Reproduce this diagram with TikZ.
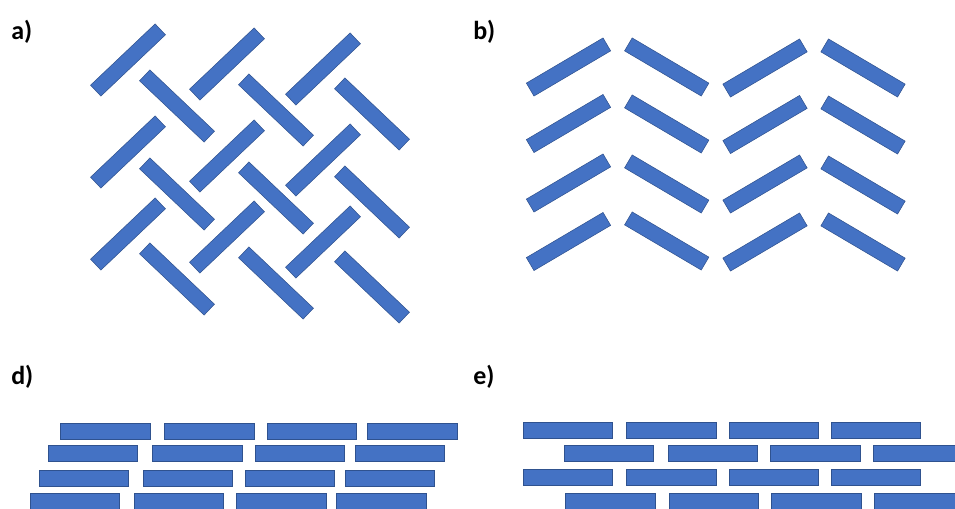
\documentclass[tikz,border=0pt]{standalone}
\usepackage{fontspec}
\setmainfont{Carlito}
\definecolor{brickfill}{HTML}{4472C4}
\definecolor{brickline}{HTML}{2F528F}
\begin{document}
\begin{tikzpicture}[x=0.75pt,y=-0.75pt,
  brick/.style={rectangle,fill=brickfill,draw=brickline,line width=0.4pt,inner sep=0pt,outer sep=0pt},
  stick/.style={brick,minimum width=66.75pt,minimum height=11.25pt},
  flat/.style={brick,minimum width=67.1pt,minimum height=12pt},
  lab/.style={anchor=base west,inner sep=0pt,font=\fontsize{19.5pt}{19.5pt}\selectfont\bfseries}]
\useasboundingbox (0,0) rectangle (955,509);
\clip (0,0) rectangle (955,509);
% labels
\node[lab] (la) at (11,39.8) {a)};
\node[lab] (lb) at (473,39.8) {b)};
\node[lab] (ld) at (11,384.3) {d)};
\node[lab] (le) at (473,384.3) {e)};
% panel a
\foreach \x/\y [count=\i] in {128/60,227/64,323/69,128/152,227/156,323/160,128/234,227/237,323/242}
  \node[stick,rotate=43.5] (au\i) at (\x,\y) {};
\foreach \x/\y [count=\i] in {177/106,276/110,372/114,177/194,276/198,372/202,177/279,276/283,372/287}
  \node[stick,rotate=-43.5] (ad\i) at (\x,\y) {};
% panel b
\foreach \x/\y [count=\i] in {568.5/67,568.5/123.5,568.5/183,568.5/241.5,765/68,765/124.5,765/184,765/242}
  \node[stick,rotate=30.5] (bu\i) at (\x,\y) {};
\foreach \x/\y [count=\i] in {666.7/67,666.7/124,666.7/184,666.7/241,863/68,863/125,863/185,863/242}
  \node[stick,rotate=-30.5] (bd\i) at (\x,\y) {};
% panel d
\foreach \x/\y [count=\i] in {105.2/431,209.2/431,311.8/431,412.3/431,
  93/453.7,197.2/453.7,299.5/453.7,399.7/453.7,
  83.5/478,187.5/478,289.8/478,390/478,
  74.8/501.3,178.8/501.3,281.2/501.3,381.3/501.3}
  \node[flat] (d\i) at (\x,\y) {};
% panel e
\foreach \x/\y [count=\i] in {567.5/430.3,671.3/430.3,773.7/430.3,876/430.3,
  608.7/453.5,712.8/453.5,815.2/453.5,918/453.5,
  567.5/477.7,671.3/477.7,773.7/477.7,876/477.7,
  610.2/501.3,713.8/501.3,816.2/501.3,919/501.3}
  \node[flat] (e\i) at (\x,\y) {};
\end{tikzpicture}
\end{document}
